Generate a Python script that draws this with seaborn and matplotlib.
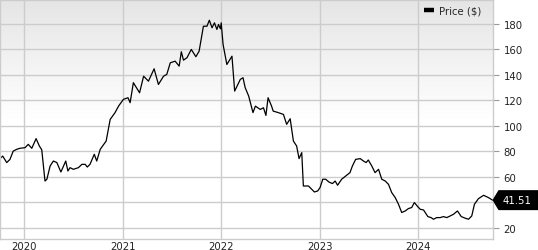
import matplotlib
matplotlib.use("Agg")
import numpy as np
import pandas as pd
import seaborn as sns
import matplotlib.pyplot as plt
from matplotlib.patches import Polygon
from matplotlib.transforms import IdentityTransform

# ---- data ----
dates = [
    "2019-10-03", "2019-10-13", "2019-10-28", "2019-11-09", "2019-11-21", "2019-12-04",
    "2019-12-16", "2020-01-04", "2020-01-16", "2020-01-29", "2020-02-14", "2020-02-26",
    "2020-03-06", "2020-03-18", "2020-03-25", "2020-04-06", "2020-04-18", "2020-05-01",
    "2020-05-16", "2020-06-03", "2020-06-11", "2020-06-19", "2020-07-01", "2020-07-20",
    "2020-08-02", "2020-08-14", "2020-08-22", "2020-09-01", "2020-09-17", "2020-09-26",
    "2020-10-09", "2020-10-31", "2020-11-15", "2020-12-03", "2020-12-16", "2021-01-03",
    "2021-01-20", "2021-01-28", "2021-02-09", "2021-03-04", "2021-03-19", "2021-04-06",
    "2021-04-27", "2021-05-13", "2021-06-01", "2021-06-13", "2021-06-26", "2021-07-14",
    "2021-07-29", "2021-08-06", "2021-08-14", "2021-08-27", "2021-09-12", "2021-09-29",
    "2021-10-11", "2021-10-27", "2021-11-09", "2021-11-18", "2021-11-28", "2021-12-07",
    "2021-12-16", "2021-12-22", "2021-12-29", "2022-01-01", "2022-01-08", "2022-01-22",
    "2022-02-10", "2022-02-20", "2022-03-13", "2022-03-23", "2022-03-31", "2022-04-13",
    "2022-04-29", "2022-05-08", "2022-05-26", "2022-06-07", "2022-06-16", "2022-06-24",
    "2022-07-07", "2022-07-13", "2022-08-01", "2022-08-20", "2022-09-01", "2022-09-14",
    "2022-09-26", "2022-10-08", "2022-10-17", "2022-10-27", "2022-11-02", "2022-11-21",
    "2022-12-03", "2022-12-13", "2022-12-25", "2023-01-03", "2023-01-13", "2023-01-24",
    "2023-02-05", "2023-02-18", "2023-02-28", "2023-03-09", "2023-03-24", "2023-04-08",
    "2023-04-24", "2023-05-03", "2023-05-15", "2023-06-01", "2023-06-13", "2023-06-23",
    "2023-07-01", "2023-07-14", "2023-07-26", "2023-08-08", "2023-08-20", "2023-09-02",
    "2023-09-14", "2023-09-26", "2023-10-09", "2023-10-21", "2023-11-02", "2023-11-15",
    "2023-11-27", "2023-12-09", "2023-12-19", "2023-12-31", "2024-01-10", "2024-01-22",
    "2024-02-07", "2024-02-19", "2024-02-28", "2024-03-11", "2024-03-24", "2024-04-05",
    "2024-04-17", "2024-04-30", "2024-05-12", "2024-05-27", "2024-06-10", "2024-06-25",
    "2024-07-07", "2024-07-19", "2024-07-29", "2024-08-13", "2024-09-01", "2024-09-19",
    "2024-10-04",
]
prices = [
    74.1, 76.1, 71.0, 73.5, 80.0, 81.4,
    82.2, 82.7, 85.3, 82.2, 89.8, 84.0,
    81.0, 56.5, 57.9, 68.3, 72.2, 71.0,
    63.6, 72.2, 64.4, 67.0, 65.7, 67.0,
    69.6, 69.6, 67.5, 69.6, 77.5, 72.2,
    81.4, 87.9, 104.9, 110.2, 115.3, 120.6,
    121.9, 118.0, 133.7, 125.8, 138.8, 134.9,
    144.6, 132.3, 138.8, 140.2, 149.3, 150.6,
    146.7, 158.0, 151.4, 153.3, 159.8, 154.1,
    158.4, 178.0, 178.0, 182.7, 176.8, 180.7,
    175.5, 179.4, 176.0, 180.7, 163.7, 148.0,
    154.5, 127.1, 136.3, 137.6, 129.8, 123.2,
    110.2, 115.3, 112.7, 114.0, 108.0, 121.9,
    115.3, 111.4, 110.2, 108.8, 101.0, 105.4,
    87.9, 84.0, 74.1, 78.8, 52.6, 52.6,
    50.0, 47.9, 48.7, 51.4, 57.9, 57.9,
    55.7, 54.5, 56.5, 53.2, 57.9, 60.4,
    63.1, 68.3, 73.5, 74.1, 72.2, 71.0,
    73.0, 68.3, 63.1, 65.7, 57.9, 56.5,
    53.9, 47.4, 43.5, 38.3, 31.8, 33.0,
    34.9, 35.7, 39.6, 36.5, 34.3, 33.8,
    28.6, 27.8, 26.5, 27.8, 27.8, 28.6,
    27.8, 29.1, 30.4, 33.0, 28.6, 27.3,
    26.5, 29.1, 38.3, 42.7, 45.3, 43.5,
    41.51,
]
last_price = 41.51
series_label = "Price ($)"
y_ticks = [20, 40, 60, 80, 100, 120, 140, 160, 180]
x_tick_dates = ["2020-01-01", "2021-01-01", "2022-01-01", "2023-01-01", "2024-01-01"]
x_tick_labels = ["2020", "2021", "2022", "2023", "2024"]

df = pd.DataFrame({"date": pd.to_datetime(dates), "price": prices})

# ---- style ----
sns.set_style("white")
plt.rcParams["font.family"] = ["DejaVu Sans"]
FS = 7.3

W, H = 538, 251
fig = plt.figure(figsize=(W / 100, H / 100), dpi=100)
rect = [0.0, 11 / H, 492.5 / W, 239.5 / H]

# gradient background
bg = fig.add_axes(rect, zorder=-1)
n = 240
t = np.linspace(0, 1, n)[:, None]
g = (229 + (255 - 229) * np.clip(t / 0.5, 0, 1)) / 255.0
img = np.repeat(g[:, :, None], 3, axis=2)
bg.imshow(img, aspect="auto", extent=[0, 1, 0, 1])
bg.set_axis_off()

ax = fig.add_axes(rect)
ax.set_facecolor("none")
sns.lineplot(data=df, x="date", y="price", ax=ax, color="black",
             linewidth=0.9, label=series_label)

ax.set_xlim(pd.Timestamp("2019-10-03"), pd.Timestamp("2024-10-04"))
ax.set_ylim(11, 199)
ax.set_xlabel("")
ax.set_ylabel("")

ax.set_yticks(y_ticks)
ax.set_yticklabels(["" if v == 40 else str(v) for v in y_ticks])
ax.set_xticks(pd.to_datetime(x_tick_dates))
ax.set_xticklabels(x_tick_labels)
ax.yaxis.tick_right()
ax.tick_params(axis="y", length=4.5, width=0.8, color="#999999", pad=3.5,
               labelsize=FS, labelcolor="#222222", left=False, right=True)
ax.tick_params(axis="x", length=0, pad=1.2, labelsize=FS, labelcolor="#222222")

ax.grid(True, color="#cccccc", linewidth=1.0)
ax.set_axisbelow(True)
for s in ax.spines.values():
    s.set_visible(True)
    s.set_color("#cccccc")
    s.set_linewidth(1.0)

leg = ax.legend(loc="upper right", frameon=False, fontsize=FS,
                handlelength=0.95, handletextpad=0.45,
                bbox_to_anchor=(0.985, 0.99), borderaxespad=0.0)
for h in leg.get_lines():
    h.set_linewidth(3.2)
    h.set_solid_capstyle("butt")

# last price tag
xt, yt = ax.get_yaxis_transform().transform((1.0, last_price))
hh = 10
tag = Polygon([(xt, yt), (xt + 6, yt + hh), (W + 1, yt + hh), (W + 1, yt - hh),
               (xt + 6, yt - hh)], closed=True, facecolor="black",
              edgecolor="none", transform=IdentityTransform())
fig.add_artist(tag)
fig.text(517 / W, yt / H, f"{last_price:.2f}", color="white", fontsize=FS,
         ha="center", va="center")

fig.savefig("out.png", dpi=100)
